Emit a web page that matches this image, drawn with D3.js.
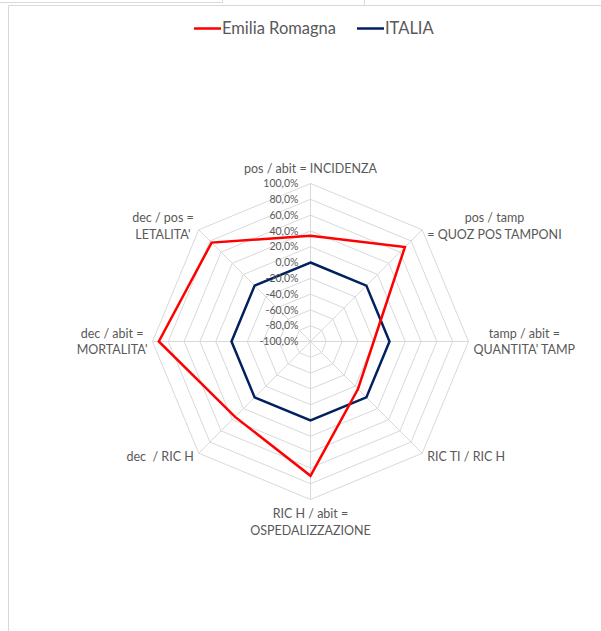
<!doctype html>
<html lang="en">
<head>
  <meta charset="utf-8">
  <title>Radar Emilia Romagna / Italia</title>
  <script src="https://cdn.jsdelivr.net/npm/d3@7"></script>
  <style>
    body { margin: 0; background: #fff; }
    text { font-family: Lato, "Open Sans", sans-serif; fill: #595959; white-space: pre; }
  </style>
</head>
<body>
  <div id="chart"></div>
  <script>
    // data (fractions, -1 .. 1)
    const categories = [
      ["pos / abit = INCIDENZA"],
      ["pos / tamp", "= QUOZ POS TAMPONI"],
      ["tamp / abit =", "QUANTITA' TAMP"],
      ["RIC TI / RIC H"],
      ["RIC H / abit =", "OSPEDALIZZAZIONE"],
      ["dec  / RIC H"],
      ["dec / abit =", "MORTALITA'"],
      ["dec / pos =", "LETALITA'"]
    ];
    const emiliaValues = [0.34, 0.69, -0.20, -0.15, 0.70, 0.35, 0.92, 0.77];
    const italiaValues = [0, 0, 0, 0, 0, 0, 0, 0];
    const tickValues = [-1, -0.8, -0.6, -0.4, -0.2, 0, 0.2, 0.4, 0.6, 0.8, 1];
    const seriesNames = ["Emilia Romagna", "ITALIA"];

    const RED = "#ff0000";
    const NAVY = "#002060";
    const GRID = "#d9d9d9";

    const w = 601;
    const h = 631;
    const cx = 310.5;
    const cy = 341.5;
    const radius = 158;

    const itLocale = d3.formatLocale({
      decimal: ",", thousands: ".", grouping: [3], currency: ["", " €"], minus: "-"
    });
    const formatPct = itLocale.format(".1%");

    const rScale = d3.scaleLinear().domain([-1, 1]).range([0, radius]);
    const angle = i => i * 2 * Math.PI / categories.length;
    const px = (i, v) => cx + rScale(v) * Math.sin(angle(i));
    const py = (i, v) => cy - rScale(v) * Math.cos(angle(i));

    const svg = d3.select("#chart").append("svg")
      .attr("width", w)
      .attr("height", h);

    // spreadsheet frame bits
    svg.append("path")
      .attr("d", "M0,2.5H222.5V0M364.5,0V5.5M8.5,631V5.5H601")
      .style("fill", "none")
      .style("stroke", GRID)
      .style("stroke-width", 1);

    // rings
    const ring = d3.lineRadial()
      .angle((d, i) => angle(i))
      .radius(d => rScale(d))
      .curve(d3.curveLinearClosed);

    const g = svg.append("g").attr("transform", `translate(${cx},${cy})`);

    g.selectAll(".ring")
      .data(tickValues.slice(1))
      .enter().append("path")
      .attr("class", "ring")
      .attr("d", t => ring(categories.map(() => t)))
      .style("fill", "none")
      .style("stroke", GRID)
      .style("stroke-width", 1);

    // spokes
    g.selectAll(".spoke")
      .data(categories)
      .enter().append("line")
      .attr("x1", 0).attr("y1", 0)
      .attr("x2", (d, i) => px(i, 1) - cx)
      .attr("y2", (d, i) => py(i, 1) - cy)
      .style("stroke", GRID)
      .style("stroke-width", 1);

    // series
    function addSeries(values, color) {
      g.append("path")
        .datum(values)
        .attr("d", ring)
        .style("fill", "none")
        .style("stroke", color)
        .style("stroke-width", 2.5)
        .style("stroke-linejoin", "miter");
    }
    addSeries(italiaValues, NAVY);
    addSeries(emiliaValues, RED);

    // tick labels along top spoke
    svg.selectAll(".tick")
      .data(tickValues)
      .enter().append("text")
      .attr("x", cx - 12)
      .attr("y", t => cy - rScale(t))
      .attr("dy", "0.35em")
      .style("text-anchor", "end")
      .style("font-size", "10.5px")
      .text(t => formatPct(t));

    // category labels
    const lineH = 16.5;
    const gap = 5;
    categories.forEach((lines, i) => {
      const s = Math.sin(angle(i));
      const c = Math.cos(angle(i));
      const vx = px(i, 1);
      const vy = py(i, 1);
      const t = svg.append("text")
        .style("font-size", "12.5px")
        .style("text-anchor", "middle");
      const spans = lines.map(l => t.append("tspan").text(l));
      const bw = d3.max(spans, sp => sp.node().getComputedTextLength());
      let bx = vx;
      if (s > 0.1) bx = vx + gap + bw / 2;
      if (s < -0.1) bx = vx - gap - bw / 2;
      const n = lines.length;
      let firstY;
      if (c > 0.9) firstY = vy - 14.5 - (n - 1) * lineH;
      else if (c < -0.9) firstY = vy + 14.5;
      else firstY = vy - c * 5 - (n - 1) * lineH / 2;
      spans.forEach((sp, k) => {
        sp.attr("x", bx).attr("y", firstY + k * lineH).attr("dy", "0.35em");
      });
    });

    // legend
    const legend = svg.append("g").attr("transform", "translate(0,28.5)");
    const legendItems = [
      { name: seriesNames[0], color: RED, x: 194 },
      { name: seriesNames[1], color: NAVY, x: 357 }
    ];
    legendItems.forEach(item => {
      legend.append("line")
        .attr("x1", item.x).attr("x2", item.x + 27)
        .attr("y1", 0).attr("y2", 0)
        .style("stroke", item.color)
        .style("stroke-width", 2.5);
      legend.append("text")
        .attr("x", item.x + 28)
        .attr("y", 0)
        .attr("dy", "0.35em")
        .style("font-size", "16.5px")
        .text(item.name);
    });
  </script>
</body>
</html>
